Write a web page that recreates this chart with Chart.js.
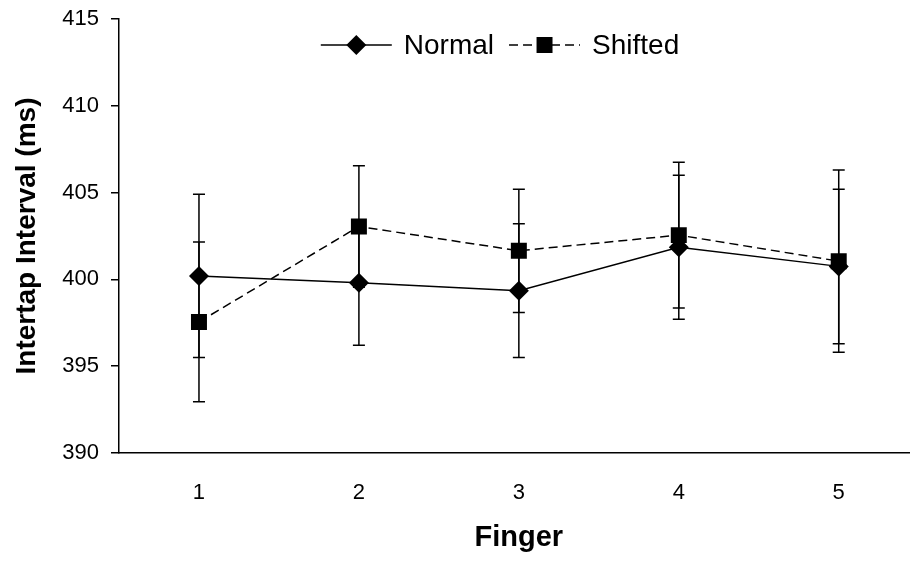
<!DOCTYPE html>
<html>
<head>
<meta charset="utf-8">
<script src="https://cdn.jsdelivr.net/npm/chart.js@4/dist/chart.umd.min.js"></script>
<style>
  html, body { margin: 0; padding: 0; background: #fff; overflow: hidden; }
  #wrap { width: 930px; height: 565px; }
</style>
</head>
<body>
<div id="wrap"><canvas id="c" width="930" height="565"></canvas></div>
<script>
// ---- data ----
const fingers = ['1', '2', '3', '4', '5'];
const normalMeans = [400.2, 399.8, 399.35, 401.85, 400.75];
const normalErr   = [4.7, 3.6, 3.85, 4.15, 4.45];
const shiftedMeans = [397.55, 403.05, 401.65, 402.55, 401.05];
const shiftedErr   = [4.6, 3.5, 3.55, 4.2, 5.25];
const yTicks = [390, 395, 400, 405, 410, 415];

const FONT = '"Liberation Sans", Arial, sans-serif';

const errorBarPlugin = {
  id: 'errorBars',
  beforeDatasetsDraw(chart) {
    const ctx = chart.ctx;
    const y = chart.scales.y;
    const errs = [normalErr, shiftedErr];
    ctx.save();
    ctx.strokeStyle = '#000';
    ctx.lineWidth = 1.5;
    chart.data.datasets.forEach((ds, di) => {
      const meta = chart.getDatasetMeta(di);
      meta.data.forEach((pt, i) => {
        const v = ds.data[i];
        const e = errs[di][i];
        const yt = y.getPixelForValue(v + e);
        const yb = y.getPixelForValue(v - e);
        const x = pt.x;
        ctx.beginPath();
        ctx.moveTo(x, yt); ctx.lineTo(x, yb);
        ctx.moveTo(x - 6, yt); ctx.lineTo(x + 6, yt);
        ctx.moveTo(x - 6, yb); ctx.lineTo(x + 6, yb);
        ctx.stroke();
      });
    });
    ctx.restore();
  }
};

const legendPlugin = {
  id: 'excelLegend',
  afterDraw(chart) {
    const ctx = chart.ctx;
    ctx.save();
    ctx.font = '28px ' + FONT;
    ctx.textBaseline = 'middle';
    ctx.fillStyle = '#000';
    const lineLen = 71, gapText = 12, gapItem = 15;
    const items = chart.data.datasets;
    let total = 0;
    items.forEach((ds, i) => {
      total += lineLen + gapText + ctx.measureText(ds.label).width;
      if (i < items.length - 1) total += gapItem;
    });
    let x = 500 - total / 2;
    const yc = 45;
    items.forEach((ds, i) => {
      ctx.save();
      ctx.strokeStyle = '#000';
      ctx.lineWidth = ds.borderWidth;
      ctx.setLineDash(ds.borderDash || []);
      ctx.beginPath();
      ctx.moveTo(x, yc); ctx.lineTo(x + lineLen, yc);
      ctx.stroke();
      ctx.setLineDash([]);
      Chart.helpers.drawPoint(ctx, {pointStyle: ds.pointStyle, radius: ds.pointRadius, rotation: 0, borderWidth: 0},
        x + lineLen / 2, yc);
      ctx.restore();
      ctx.fillStyle = '#000';
      ctx.fillText(ds.label, x + lineLen + gapText, yc + 1);
      x += lineLen + gapText + ctx.measureText(ds.label).width + gapItem;
    });
    ctx.restore();
  }
};

new Chart(document.getElementById('c'), {
  type: 'line',
  data: {
    labels: fingers,
    datasets: [
      {
        label: 'Normal',
        data: normalMeans,
        borderColor: '#000',
        backgroundColor: '#000',
        borderWidth: 1.5,
        pointStyle: 'rectRot',
        pointRadius: 10,
        pointBorderWidth: 0,
        pointBackgroundColor: '#000',
        tension: 0
      },
      {
        label: 'Shifted',
        data: shiftedMeans,
        borderColor: '#000',
        backgroundColor: '#000',
        borderWidth: 1.5,
        borderDash: [9, 5],
        pointStyle: 'rect',
        pointRadius: 11.3,
        pointBorderWidth: 0,
        pointBackgroundColor: '#000',
        tension: 0
      }
    ]
  },
  options: {
    responsive: false,
    animation: false,
    devicePixelRatio: 1,
    layout: { padding: { left: 0, right: 10, top: 19, bottom: 0 } },
    plugins: {
      legend: { display: false },
      tooltip: { enabled: false }
    },
    scales: {
      x: {
        type: 'category',
        offset: true,
        grid: { display: false, drawTicks: true, tickLength: 8 },
        border: { display: true, color: '#000', width: 1.5 },
        ticks: { color: '#000', font: { family: FONT, size: 22 }, padding: 19 },
        title: {
          display: true, text: 'Finger', color: '#000',
          font: { family: FONT, size: 29, weight: 'bold' },
          padding: { top: 0, bottom: 10 }
        },
        afterFit(scale) { scale.height = 112; scale.paddingLeft = 0; scale.paddingRight = 0; }
      },
      y: {
        min: 390, max: 415,
        afterBuildTicks(scale) { scale.ticks = yTicks.map(v => ({ value: v })); },
        grid: { drawOnChartArea: false, drawTicks: true, tickLength: 8, color: '#000', lineWidth: 1.5 },
        border: { display: true, color: '#000', width: 1.5 },
        ticks: { color: '#000', font: { family: FONT, size: 22 }, padding: 12 },
        title: {
          display: true, text: 'Intertap Interval (ms)', color: '#000',
          font: { family: FONT, size: 28, weight: 'bold' },
          padding: { top: 10, bottom: 0 }
        },
        afterFit(scale) { scale.width = 119; scale.paddingTop = 0; scale.paddingBottom = 0; }
      }
    }
  },
  plugins: [errorBarPlugin, legendPlugin]
});
</script>
</body>
</html>
